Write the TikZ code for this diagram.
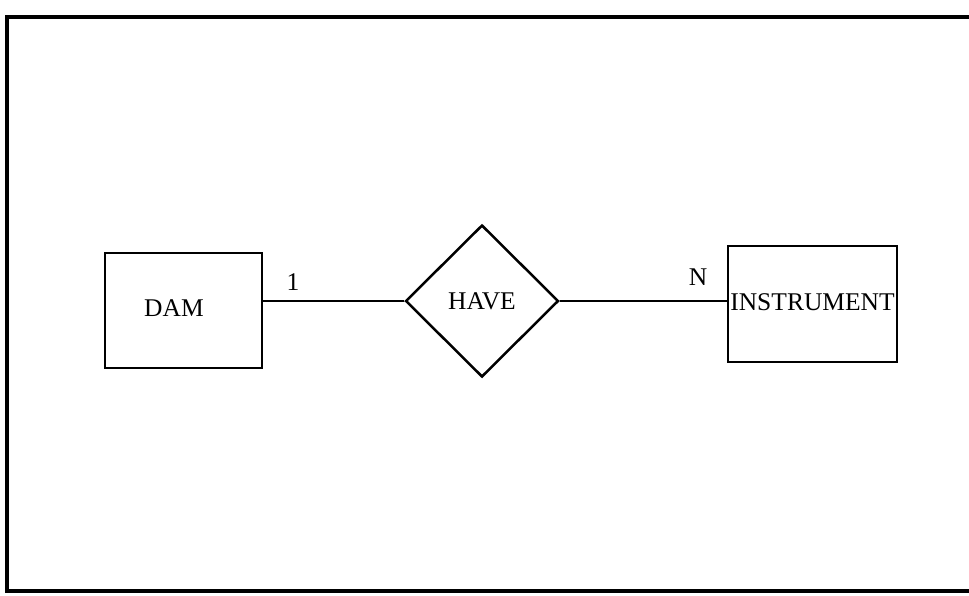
\documentclass[tikz,border=0pt]{standalone}
\usepackage{fontspec}
\setmainfont{Liberation Serif}
\usetikzlibrary{
    shapes.geometric,
    calc
}
\tikzset {
    frame line/.style = {line width = 3.5pt},
    entity/.style = {draw, line width = 2.5pt, inner sep = 0pt},
    relation/.style = {draw, diamond, aspect = 1, line width = 2.5pt, inner sep = 0pt,
        minimum width = 153pt, minimum height = 152pt},
    link/.style = {line width = 2.5pt},
    card/.style = {inner sep = 0pt},
    every node/.style = {font = \fontsize{25.5}{30}\selectfont}
}
\begin{document}
\begin{tikzpicture}[x = 1pt, y = -1pt]
            \useasboundingbox (0, 0) rectangle (969, 595);
            \coordinate (ftr) at (975, 17);
            \coordinate (ftl) at (7, 17);
            \coordinate (fbl) at (7, 591);
            \coordinate (fbr) at (975, 591);
            \draw [frame line] (ftr) -- (ftl) -- (fbl) -- (fbr);
            \node (dam) [entity, minimum width = 157pt, minimum height = 115pt] at (183.5, 310.5) {};
            \node (damtext) at (174, 308) {DAM};
            \node (have) [relation] at (482, 301) {HAVE};
            \node (inst) [entity, minimum width = 169pt, minimum height = 116pt] at (812.5, 304) {};
            \node (insttext) at (812.5, 302) {INSTRUMENT};
            \draw [link] (have.west) -- (have.west -| dam.east);
            \draw [link] (have.east) -- (have.east -| inst.west);
            \node (one) [card] at (293, 282) {1};
            \node (many) [card] at (698, 277) {N};
        \end{tikzpicture}
\end{document}
